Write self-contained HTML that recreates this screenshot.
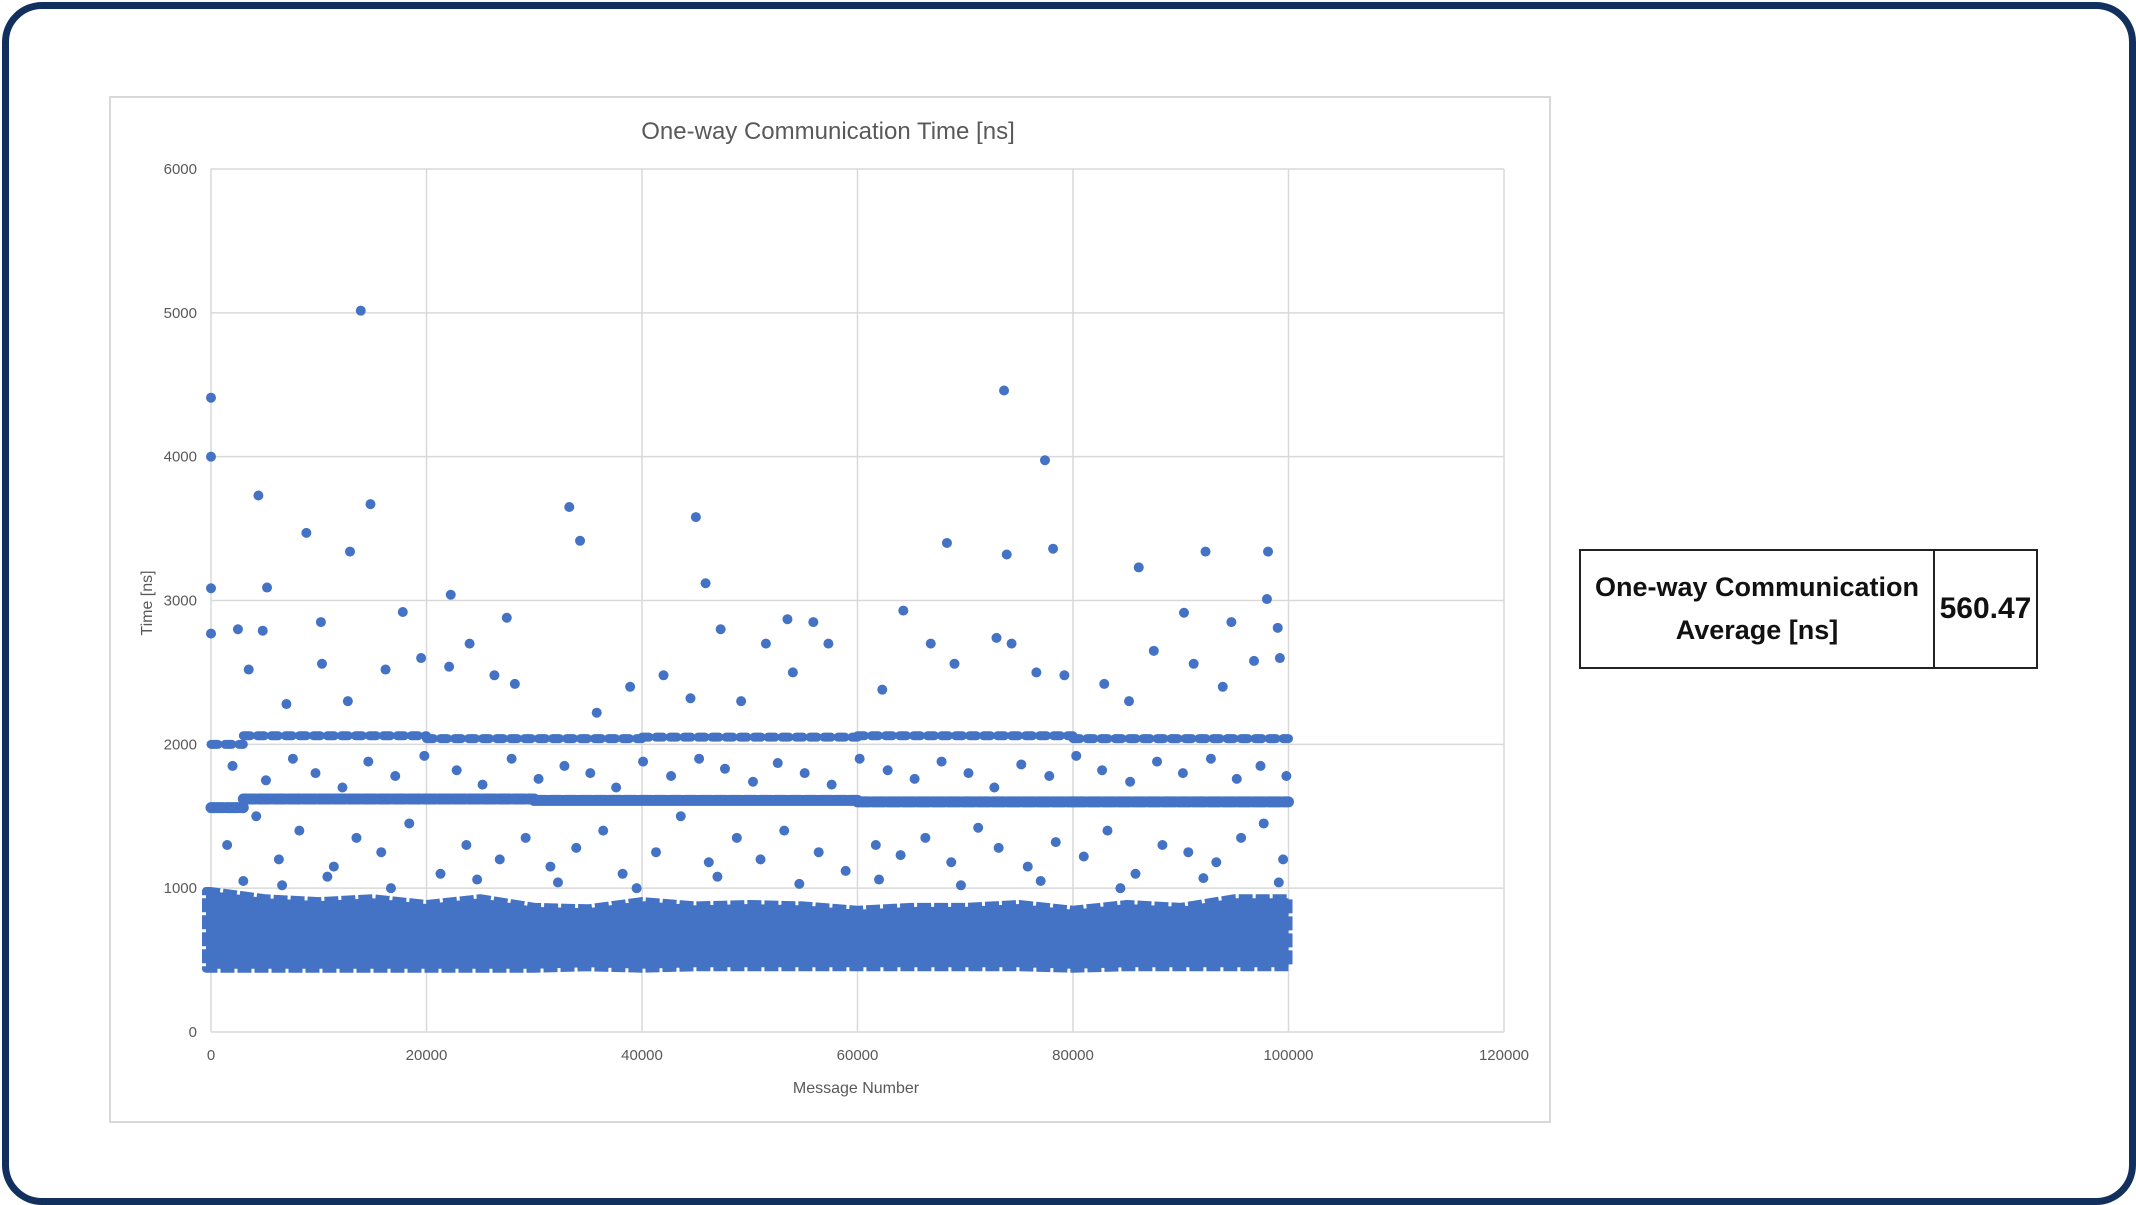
<!DOCTYPE html>
<html><head><meta charset="utf-8"><style>
html,body{margin:0;padding:0;background:#fff;}
#wrap{position:absolute;left:0;top:0;width:2136px;height:1205px;overflow:hidden;}
#card{position:absolute;left:2px;top:2px;width:2120px;height:1189px;border:7px solid #12305e;border-radius:40px;background:#fff;}
svg text{font-family:"Liberation Sans",sans-serif;}
#tbl{position:absolute;left:1579px;top:549px;width:459px;height:120px;border:2px solid #222;box-sizing:border-box;display:flex;font-family:"Liberation Sans",sans-serif;font-weight:bold;color:#111;}
#tbl .c1{width:352px;border-right:2px solid #222;display:flex;align-items:center;justify-content:center;text-align:center;font-size:27px;line-height:43px;}
#tbl .c2{flex:1;display:flex;align-items:center;justify-content:center;font-size:30px;}
</style></head><body>
<div id="wrap">
<div id="card"></div>
<svg id="chart" width="2136" height="1205" style="position:absolute;left:0;top:0">
<rect x="110" y="97" width="1440" height="1025" fill="#fff" stroke="#d9d9d9" stroke-width="2"/>
<text x="828" y="139" text-anchor="middle" font-size="24" fill="#595959">One-way Communication Time [ns]</text>
<text x="856" y="1093" text-anchor="middle" font-size="16" fill="#595959">Message Number</text>
<text transform="translate(152,603) rotate(-90)" text-anchor="middle" font-size="16" fill="#595959">Time [ns]</text>
<g id="grid"></g><g id="marks" fill="#4472c4"></g><g id="ticks"></g>
</svg>
<div id="tbl">
<div class="c1">One-way Communication<br>Average [ns]</div>
<div class="c2">560.47</div>
</div>
</div>
<script>
const xTicks=[0,20000,40000,60000,80000,100000,120000];
const yTicks=[0,1000,2000,3000,4000,5000,6000];
// dense main band (x, low, high)
const bandX=[0,5000,10000,15000,20000,25000,30000,35000,40000,45000,50000,55000,60000,65000,70000,75000,80000,85000,90000,95000,100000];
const bandLow=[440,440,440,440,440,440,440,450,440,450,450,450,450,450,450,450,440,450,450,450,450];
const bandHigh=[980,930,910,930,890,930,870,860,910,880,890,880,850,870,870,890,850,890,870,930,930];
// horizontal clusters [xStart, xEnd, value]
const clusterStart=[0,3000,30000,60000,80000,0,3000,20000,40000,60000,80000];
const clusterEnd=[3000,30000,60000,80000,100000,3000,20000,40000,60000,80000,100000];
const clusterVal=[1560,1620,1610,1600,1600,2000,2060,2040,2050,2060,2040];
// scattered points (message number, ns)
const ptX=[0,0,0,0,13900,14800,4400,8850,12900,5200,33250,34250,45000,45900,73600,77400,78150,68300,73850,86100,92300,98100,98000,22250,17800,27450,64250,53500,55900,90300,94700,99000,
2500,3500,4800,7000,10200,10300,12700,16200,19500,22100,24000,26300,28200,35800,38900,42000,44500,47300,49200,51500,54000,57300,62300,66800,69000,72900,74300,76600,79200,82900,85200,87500,91200,93900,96800,99200,
1500,4200,6300,8200,11400,13500,15800,18400,21300,23700,26800,29200,31500,33900,36400,38200,41300,43600,46200,48800,51000,53200,56400,58900,61700,64000,66300,68700,71200,73100,75800,78400,81000,83200,85800,88300,90700,93300,95600,97700,99500,
2000,5100,7600,9700,12200,14600,17100,19800,22800,25200,27900,30400,32800,35200,37600,40100,42700,45300,47700,50300,52600,55100,57600,60200,62800,65300,67800,70300,72700,75200,77800,80300,82700,85300,87800,90200,92800,95200,97400,99800,
3000,6600,10800,16700,24700,32200,39500,47000,54600,62000,69600,77000,84400,92100,99100];
const ptY=[4410,4000,3085,2770,5015,3670,3730,3470,3340,3090,3650,3415,3580,3120,4460,3975,3360,3400,3320,3230,3340,3340,3010,3040,2920,2880,2930,2870,2850,2915,2850,2810,
2800,2520,2790,2280,2850,2560,2300,2520,2600,2540,2700,2480,2420,2220,2400,2480,2320,2800,2300,2700,2500,2700,2380,2700,2560,2740,2700,2500,2480,2420,2300,2650,2560,2400,2580,2600,
1300,1500,1200,1400,1150,1350,1250,1450,1100,1300,1200,1350,1150,1280,1400,1100,1250,1500,1180,1350,1200,1400,1250,1120,1300,1230,1350,1180,1420,1280,1150,1320,1220,1400,1100,1300,1250,1180,1350,1450,1200,
1850,1750,1900,1800,1700,1880,1780,1920,1820,1720,1900,1760,1850,1800,1700,1880,1780,1900,1830,1740,1870,1800,1720,1900,1820,1760,1880,1800,1700,1860,1780,1920,1820,1740,1880,1800,1900,1760,1850,1780,
1050,1020,1080,1000,1060,1040,1000,1080,1030,1060,1020,1050,1000,1070,1040];
const X0=211,X1=1504,Y0=1032,Y1=169;
const sx=v=>X0+(v-0)/(120000-0)*(X1-X0);
const sy=v=>Y0-(v-0)/(6000-0)*(Y0-Y1);
const NS="http://www.w3.org/2000/svg";
const grid=document.getElementById('grid'),marks=document.getElementById('marks'),ticks=document.getElementById('ticks');
function mk(tag,attrs,parent){const e=document.createElementNS(NS,tag);for(const k in attrs)e.setAttribute(k,attrs[k]);parent.appendChild(e);return e;}
yTicks.forEach(v=>{
 const l=mk('line',{x1:X0,x2:X1,y1:sy(v),y2:sy(v),stroke:'#d9d9d9','stroke-width':1.5},grid);
 
 
 const t=mk('text',{x:X0-14,y:sy(v)+5,'text-anchor':'end','font-size':15,fill:'#595959'},ticks);t.textContent=v;
 
 
});
xTicks.forEach(v=>{
 const l=mk('line',{x1:sx(v),x2:sx(v),y1:Y1,y2:Y0,stroke:'#d9d9d9','stroke-width':1.5},grid);
 
 
 const t=mk('text',{x:sx(v),y:Y0+28,'text-anchor':'middle','font-size':15,fill:'#595959'},ticks);t.textContent=v;
 
 
});
// band
let d='M'+(sx(bandX[0])-5)+','+sy(bandHigh[0]);
bandX.forEach((x,i)=>{d+=' L'+sx(x)+','+sy(bandHigh[i]);});
for(let i=bandX.length-1;i>=0;i--){d+=' L'+sx(bandX[i])+','+sy(bandLow[i]);}
d+=' L'+(sx(bandX[0])-5)+','+sy(bandLow[0])+'Z';
const band=mk('path',{d:d,fill:'#4472c4',stroke:'#4472c4','stroke-width':8,'stroke-linejoin':'round','stroke-dasharray':'14 3'},marks);


clusterStart.forEach((s,i)=>{
 const l=mk('line',{x1:sx(s),x2:sx(clusterEnd[i]),y1:sy(clusterVal[i]),y2:sy(clusterVal[i]),stroke:'#4472c4','stroke-width':i<5?11:9,'stroke-linecap':'round','stroke-dasharray':i<5?'12 3':'7 7'},marks);
 
 
});
ptX.forEach((x,i)=>{
 const c=mk('circle',{cx:sx(x),cy:sy(ptY[i]),r:5},marks);
 
 
});
</script>
</body></html>
